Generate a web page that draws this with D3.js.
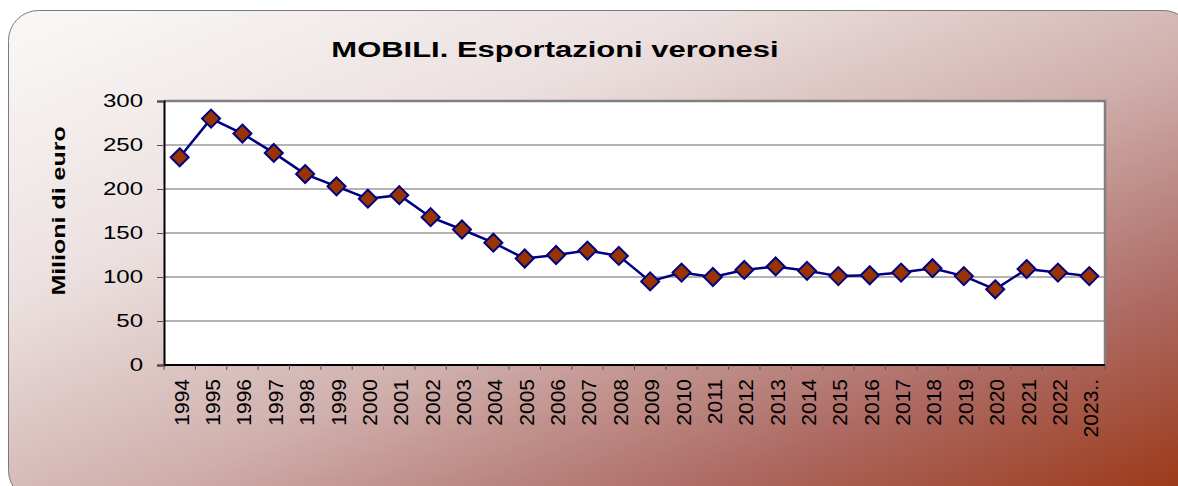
<!DOCTYPE html>
<html lang="it">
<head>
<meta charset="UTF-8">
<script src="https://d3js.org/d3.v7.min.js"></script>
<title>MOBILI. Esportazioni veronesi</title>
<style>
    body { margin: 0; background: #ffffff; }
    text { font-family: "Liberation Sans", Arial, sans-serif; fill: #000; }
</style>
</head>
<body>
<div id="chart"></div>
<script>
    // data
    var years = ["1994","1995","1996","1997","1998","1999","2000","2001","2002","2003",
                 "2004","2005","2006","2007","2008","2009","2010","2011","2012","2013",
                 "2014","2015","2016","2017","2018","2019","2020","2021","2022","2023.."];
    var exports = [236, 280, 263, 241, 217, 203, 189, 193, 168, 154,
                   139, 121, 125, 130, 124, 95, 105, 100, 108, 112,
                   107, 101, 102, 105, 110, 101, 86, 109, 105, 101];
    var yTicks = [0, 50, 100, 150, 200, 250, 300];

    var W = 1178, H = 486;
    var margin = {top: 101, right: 73, bottom: 121, left: 164},
        width = W - margin.left - margin.right,
        height = H - margin.top - margin.bottom;

    // the old chart uses a wide font: stretch the text along its length
    function widen(sel, k) {
        sel.each(function() {
            var n = this.getComputedTextLength();
            d3.select(this)
                .attr("textLength", n * k)
                .attr("lengthAdjust", "spacingAndGlyphs");
        });
    }

    var svg = d3.select("#chart").append("svg")
        .attr("width", W)
        .attr("height", H);

    // background panel with gradient
    var grad = svg.append("defs").append("linearGradient")
        .attr("id", "bg")
        .attr("x1", "0").attr("y1", "0")
        .attr("x2", "1").attr("y2", "1");
    grad.append("stop").attr("offset", "0").attr("stop-color", "#faf9f8");
    grad.append("stop").attr("offset", "0.3").attr("stop-color", "#ebe0df");
    grad.append("stop").attr("offset", "0.55").attr("stop-color", "#cfaeab");
    grad.append("stop").attr("offset", "0.78").attr("stop-color", "#ad6a63");
    grad.append("stop").attr("offset", "1").attr("stop-color", "#9a3512");

    svg.append("rect")
        .attr("x", 8.5).attr("y", 10.5)
        .attr("width", 1185).attr("height", 490)
        .attr("rx", 30).attr("ry", 30)
        .attr("fill", "url(#bg)")
        .attr("stroke", "#7a7a7a")
        .attr("stroke-width", 1);

    var g = svg.append("g")
        .attr("transform", "translate(" + margin.left + "," + margin.top + ")");

    var x = d3.scaleBand().domain(years).range([0, width]);
    var y = d3.scaleLinear().domain([0, 300]).range([height, 0]);

    // plot area
    g.append("rect")
        .attr("width", width).attr("height", height)
        .attr("fill", "#ffffff");

    // gridlines
    g.selectAll(".grid").data(yTicks.slice(1, -1)).enter().append("line")
        .attr("x1", 0).attr("x2", width)
        .attr("y1", function(d) { return y(d); })
        .attr("y2", function(d) { return y(d); })
        .attr("stroke", "#9a9a9a")
        .attr("stroke-width", 1.5);

    // top and right border of plot area
    g.append("path")
        .attr("d", "M0," + y(300) + "H" + width + "V" + height)
        .attr("fill", "none")
        .attr("stroke", "#808080")
        .attr("stroke-width", 2.5);

    // Y axis
    var yAxis = g.append("g")
        .call(d3.axisLeft(y).tickValues(yTicks).tickSize(7).tickPadding(14));
    yAxis.select(".domain").attr("stroke", "#000").attr("stroke-width", 2);
    yAxis.selectAll(".tick line").attr("stroke", "#555");
    yAxis.selectAll("text")
        .style("font-size", "18.5px")
        .style("font-family", "Liberation Sans, Arial, sans-serif")
        .call(widen, 1.3);

    // X axis: ticks at band boundaries
    var xAxisG = g.append("g").attr("transform", "translate(0," + height + ")");
    xAxisG.append("line")
        .attr("x1", 0).attr("x2", width)
        .attr("stroke", "#000").attr("stroke-width", 2);
    xAxisG.selectAll(".xt").data(years.concat(["end"])).enter().append("line")
        .attr("x1", function(d, i) { return i * x.bandwidth(); })
        .attr("x2", function(d, i) { return i * x.bandwidth(); })
        .attr("y1", 0).attr("y2", 5)
        .attr("stroke", "#555");
    xAxisG.selectAll(".xl").data(years).enter().append("text")
        .attr("transform", function(d) {
            return "translate(" + (x(d) + x.bandwidth() / 2 + 9) + ",14) rotate(-90)";
        })
        .attr("text-anchor", "end")
        .style("font-size", "21px")
        .text(function(d) { return d; });

    // line
    g.append("path")
        .datum(exports)
        .attr("fill", "none")
        .attr("stroke", "#000080")
        .attr("stroke-width", 2.5)
        .attr("d", d3.line()
            .x(function(d, i) { return x(years[i]) + x.bandwidth() / 2; })
            .y(function(d) { return y(d); }));

    // diamond markers
    g.selectAll(".pt").data(exports).enter().append("path")
        .attr("transform", function(d, i) {
            return "translate(" + (x(years[i]) + x.bandwidth() / 2) + "," + y(d) + ")";
        })
        .attr("d", "M0,-9L9,0L0,9L-9,0Z")
        .attr("fill", "#993300")
        .attr("stroke", "#000080")
        .attr("stroke-width", 2);

    // title
    svg.append("text")
        .attr("x", 555).attr("y", 57)
        .attr("text-anchor", "middle")
        .style("font-size", "21.5px")
        .style("font-weight", "bold")
        .text("MOBILI. Esportazioni veronesi")
        .call(widen, 1.44);

    // y axis title
    svg.append("text")
        .attr("transform", "translate(65,211) rotate(-90)")
        .attr("text-anchor", "middle")
        .style("font-size", "18.5px")
        .style("font-weight", "bold")
        .text("Milioni di euro")
        .call(widen, 1.35);
</script>
</body>
</html>
